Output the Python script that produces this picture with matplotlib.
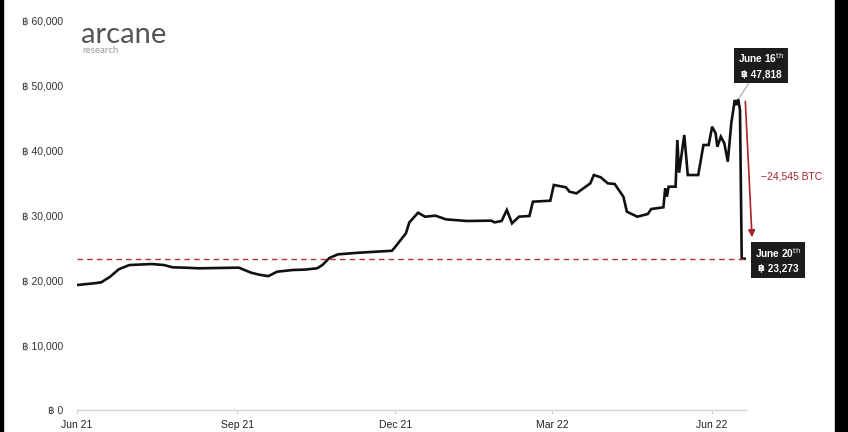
import matplotlib.pyplot as plt
import matplotlib.dates as mdates
import numpy as np
import pandas as pd

plt.rcParams['font.family'] = ['Liberation Sans', 'DejaVu Sans']

# BTC held
dates = ['2021-06-01', '2021-06-11', '2021-06-15', '2021-06-20', '2021-06-25', '2021-07-01',
         '2021-07-14', '2021-07-21', '2021-07-26', '2021-08-02', '2021-08-10', '2021-09-02',
         '2021-09-09', '2021-09-14', '2021-09-19', '2021-09-24', '2021-10-03', '2021-10-10',
         '2021-10-17', '2021-10-20', '2021-10-24', '2021-10-29', '2021-11-10', '2021-11-29',
         '2021-12-01', '2021-12-07', '2021-12-09', '2021-12-14', '2021-12-18', '2021-12-24',
         '2021-12-30', '2022-01-11', '2022-01-25', '2022-01-27', '2022-01-31', '2022-02-03',
         '2022-02-06', '2022-02-10', '2022-02-16', '2022-02-18', '2022-02-28', '2022-03-02',
         '2022-03-09', '2022-03-11', '2022-03-15', '2022-03-19', '2022-03-23', '2022-03-25',
         '2022-03-29', '2022-04-02', '2022-04-06', '2022-04-11', '2022-04-13', '2022-04-19',
         '2022-04-25', '2022-04-27', '2022-05-04', '2022-05-05', '2022-05-06', '2022-05-07',
         '2022-05-11', '2022-05-12', '2022-05-13', '2022-05-16', '2022-05-18', '2022-05-24',
         '2022-05-27', '2022-05-30', '2022-06-01', '2022-06-03', '2022-06-04', '2022-06-06',
         '2022-06-08', '2022-06-10', '2022-06-12', '2022-06-14', '2022-06-15', '2022-06-16',
         '2022-06-17', '2022-06-18', '2022-06-20']
btc = [19230, 19500, 19650, 20500, 21650, 22300,
       22460, 22300, 21950, 21900, 21800, 21900,
       21130, 20800, 20600, 21280, 21540, 21600,
       21800, 22300, 23380, 23950, 24200, 24500,
       25130, 27180, 28870, 30350, 29740, 29900,
       29330, 29080, 29130, 28870, 29080, 30770,
       28720, 29740, 29850, 32050, 32200, 34620,
       34260, 33590, 33330, 34100, 34870, 36150,
       35800, 34870, 34770, 32820, 30510, 29740,
       30150, 30920, 31180, 34100, 32820, 34360,
       34360, 41540, 36510, 42310, 36150, 36150,
       40770, 40770, 43590, 42560, 40510, 42050,
       41030, 38200, 44100, 47690, 46920, 47818,
       46150, 23273, 23273]

peak_date, peak_val = '2022-06-16', 47818
last_date, last_val = '2022-06-20', 23273
change_label = '\u221224,545 BTC'

yticks = [0, 10000, 20000, 30000, 40000, 50000, 60000]
xticks = ['2021-06-01', '2021-09-01', '2021-12-01', '2022-03-01', '2022-06-01']

d = pd.to_datetime(dates)
fig = plt.figure(figsize=(8.48, 4.32), dpi=100)
ax = fig.add_axes([0.0908, 0.0509, 0.789, 0.9028])

ax.plot(d, btc, color='#111111', lw=1.9, solid_joinstyle='miter')
ax.axhline(last_val, color='#b0343a', lw=1, ls=(0, (4, 3)))

ax.set_xlim(pd.Timestamp('2021-06-01'), pd.Timestamp('2022-06-20') + pd.Timedelta(hours=12))
ax.set_ylim(0, 60000)
ax.set_yticks(yticks)
ax.set_yticklabels(['\u0e3f ' + format(v, ',') for v in yticks])
ax.set_xticks(pd.to_datetime(xticks))
ax.xaxis.set_major_formatter(mdates.DateFormatter('%b %y'))
ax.tick_params(axis='y', length=0, pad=10, labelsize=7.5, labelcolor='#333333')
ax.tick_params(axis='x', length=3, color='#d0d0d0', pad=4, labelsize=7.5, labelcolor='#222222')
for s in ['top', 'right', 'left']:
    ax.spines[s].set_visible(False)
ax.spines['bottom'].set_color('#d6d6d6')
ax.spines['bottom'].set_linewidth(1)

# drop arrow
ax.annotate('', xy=(pd.Timestamp('2022-06-24'), 26150), xytext=(pd.Timestamp('2022-06-20'), 47900),
            arrowprops=dict(arrowstyle='-|>', color='#a8232b', lw=1.2, mutation_scale=10),
            annotation_clip=False)
ax.text(pd.Timestamp('2022-06-29'), 36000, change_label, color='#a8232b', fontsize=7.5,
        va='center', ha='left', clip_on=False)

# value boxes
box = dict(boxstyle='square,pad=0.4', fc='#1c1c1c', ec='none')
ax.annotate('June 16$^{\\mathrm{th}}$\n\u0e3f ' + format(peak_val, ','),
            xy=(pd.Timestamp(peak_date), peak_val),
            xytext=(pd.Timestamp('2022-06-29'), 53000),
            color='white', fontsize=7.2, fontweight='bold', ha='center', va='center',
            linespacing=1.5, bbox=box, annotation_clip=False,
            arrowprops=dict(arrowstyle='-', color='#999999', lw=0.7, shrinkA=0, shrinkB=1))
ax.annotate('June 20$^{\\mathrm{th}}$\n\u0e3f ' + format(last_val, ','),
            xy=(pd.Timestamp(last_date), last_val),
            xytext=(pd.Timestamp('2022-07-09'), last_val - 200),
            color='white', fontsize=7.2, fontweight='bold', ha='center', va='center',
            linespacing=1.5, bbox=box, annotation_clip=False)

# logo
fig.text(0.095, 0.92, 'arcane', fontsize=21, color='#555555', family='Lato', va='center')
fig.text(0.097, 0.882, 'research', fontsize=7, color='#9a9a9a', family='Lato', va='center')

# black edges of the screenshot
fig.patches.append(plt.Rectangle((0, 0), 0.004, 1, transform=fig.transFigure, color='black'))
fig.patches.append(plt.Rectangle((0.985, 0), 0.015, 1, transform=fig.transFigure, color='black'))

plt.savefig('out.png', dpi=100)
